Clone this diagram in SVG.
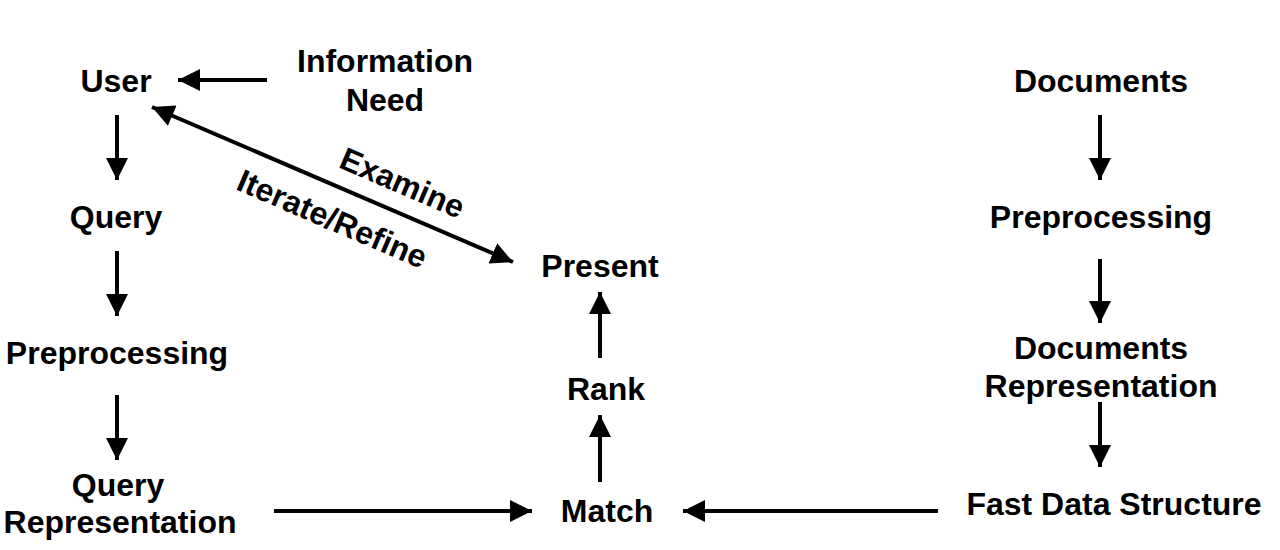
<svg xmlns="http://www.w3.org/2000/svg" width="1280" height="550" viewBox="0 0 1280 550">
<style>
text{font-family:"Liberation Sans",Arial,sans-serif;font-weight:bold;font-size:32px;fill:#000;text-anchor:middle}
.c line{stroke:#000;stroke-width:4;marker-end:url(#ah)}
</style>
<defs>
<marker id="ah" markerUnits="userSpaceOnUse" markerWidth="24" markerHeight="22" refX="22" refY="11" orient="auto">
<path d="M0,0 L22,11 L0,22 Z" fill="#000"/>
</marker>
<marker id="ahs" markerUnits="userSpaceOnUse" markerWidth="24" markerHeight="22" refX="0" refY="11" orient="auto">
<path d="M22,0 L0,11 L22,22 Z" fill="#000"/>
</marker>
</defs>
<rect width="1280" height="550" fill="#fff"/>
<g id="user"><text x="116" y="92">User</text></g>
<g id="info"><text x="385" y="72">Information</text><text x="385" y="111">Need</text></g>
<g id="query"><text x="116" y="228">Query</text></g>
<g id="prep1"><text x="117" y="364">Preprocessing</text></g>
<g id="qrep"><text x="118" y="496">Query</text><text x="120" y="533">Representation</text></g>
<g id="present"><text x="600" y="277">Present</text></g>
<g id="rank"><text x="606" y="400">Rank</text></g>
<g id="match"><text x="607" y="522">Match</text></g>
<g id="docs"><text x="1101" y="92">Documents</text></g>
<g id="prep2"><text x="1101" y="228">Preprocessing</text></g>
<g id="drep"><text x="1101" y="359">Documents</text><text x="1101" y="397">Representation</text></g>
<g id="fds"><text x="1114" y="515">Fast Data Structure</text></g>
<g id="labels">
<text x="398" y="193" transform="rotate(23.2 398 193)">Examine</text>
<text x="328" y="229" transform="rotate(23.2 328 229)">Iterate/Refine</text>
</g>
<g class="c" id="connectors">
<line x1="267" y1="80" x2="178" y2="80"/>
<line x1="117" y1="115" x2="117" y2="180"/>
<line x1="117" y1="251" x2="117" y2="316"/>
<line x1="117" y1="395" x2="117" y2="460"/>
<line x1="274" y1="511" x2="532" y2="511"/>
<line x1="938" y1="511" x2="683" y2="511"/>
<line x1="600" y1="482" x2="600" y2="415"/>
<line x1="600" y1="358" x2="600" y2="292"/>
<line x1="1100" y1="115" x2="1100" y2="180"/>
<line x1="1100" y1="259" x2="1100" y2="323"/>
<line x1="1100" y1="402" x2="1100" y2="467"/>
<line x1="152" y1="107" x2="513" y2="262" marker-start="url(#ahs)"/>
</g>
</svg>
